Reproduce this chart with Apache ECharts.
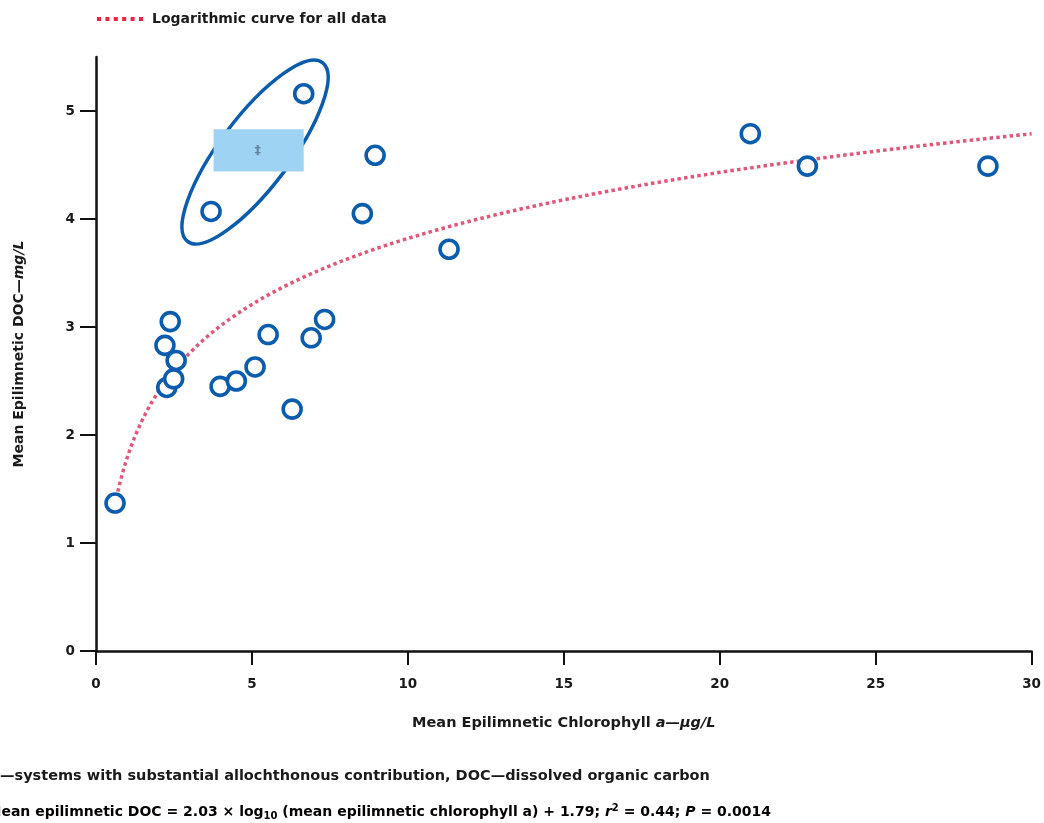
<!DOCTYPE html>
<html>
<head>
<meta charset="utf-8">
<script src="https://cdn.jsdelivr.net/npm/echarts@6/dist/echarts.min.js"></script>
<style>
  html, body { margin: 0; padding: 0; background: #fff; }
  #chart { width: 1044px; height: 823px; }
</style>
</head>
<body>
<div id="chart"></div>
<script>
// Mean epilimnetic chlorophyll a (µg/L) and DOC (mg/L) for each lake
const chlorophyll = [0.61, 2.27, 2.21, 2.38, 2.49, 2.57, 3.69, 3.98, 4.50, 5.10, 5.52,
                     6.29, 6.66, 6.90, 7.33, 8.54, 8.95, 11.32, 20.98, 22.81, 28.60];
const doc         = [1.37, 2.44, 2.83, 3.05, 2.52, 2.69, 4.07, 2.45, 2.50, 2.63, 2.93,
                     2.24, 5.16, 2.90, 3.07, 4.05, 4.59, 3.72, 4.79, 4.49, 4.49];

// Regression fitted to all lakes: DOC = slope × log10(chl a) + intercept
const FIT_SLOPE = 2.03;
const FIT_INTERCEPT = 1.79;
const FIT_R2 = 0.44;
const FIT_P = 0.0014;
const FIT_RANGE = [0.7, 30];

// Outline around the lakes with a substantial allochthonous contribution
const ALLOCH_CENTER = [5.1, 4.62];
const KEY_BOX = [[3.77, 4.83], [6.66, 4.44]];

const xTickValues = [0, 5, 10, 15, 20, 25, 30];
const yTickValues = [0, 1, 2, 3, 4, 5];
const Y_TOP = 5.5;

const FONT = "'DejaVu Sans', 'Liberation Sans', Arial, sans-serif";
const BLUE = '#0b5cad';
const INK = '#1a1a1a';
const TEXT_SIZE = 14.5;
const LEGEND_LABEL = 'Logarithmic curve for all data';

const points = chlorophyll.map((x, i) => [x, doc[i]]);

const curve = [];
const steps = 240;
for (let k = 0; k <= steps; k++) {
  const lx = Math.log10(FIT_RANGE[0]) + (Math.log10(FIT_RANGE[1]) - Math.log10(FIT_RANGE[0])) * k / steps;
  curve.push([Math.pow(10, lx), FIT_SLOPE * lx + FIT_INTERCEPT]);
}

const chart = echarts.init(document.getElementById('chart'), null, { renderer: 'canvas' });

const baseText = { fontFamily: FONT, fontWeight: 'bold', fontSize: TEXT_SIZE, color: INK };

chart.setOption({
  animation: false,
  backgroundColor: '#fff',
  grid: { left: 96, right: 7, top: 57, bottom: 172, containLabel: false },
  xAxis: {
    type: 'value',
    min: xTickValues[0], max: xTickValues[xTickValues.length - 1], interval: 5,
    splitLine: { show: false },
    axisLine: { onZero: false, lineStyle: { color: '#111', width: 2.5 } },
    axisTick: { length: 14, lineStyle: { color: '#111', width: 2 }, customValues: xTickValues },
    axisLabel: Object.assign({}, baseText, { margin: 26, fontSize: 13.5, customValues: xTickValues }),
    name: '{b|Mean Epilimnetic Chlorophyll }{i|a—µg/L}',
    nameLocation: 'middle',
    nameGap: 65,
    nameTextStyle: {
      rich: {
        b: Object.assign({}, baseText),
        i: Object.assign({}, baseText, { fontStyle: 'italic' })
      }
    }
  },
  yAxis: {
    type: 'value',
    min: yTickValues[0], max: Y_TOP, interval: 1,
    splitLine: { show: false },
    axisLine: { onZero: false, lineStyle: { color: '#111', width: 2.5 } },
    axisTick: { length: 16, lineStyle: { color: '#111', width: 2 }, customValues: yTickValues },
    axisLabel: Object.assign({}, baseText, { margin: 21, fontSize: 13.5, customValues: yTickValues }),
    name: '{b|Mean Epilimnetic DOC—}{i|mg/L}',
    nameLocation: 'middle',
    nameGap: 70,
    nameTextStyle: {
      rich: {
        b: Object.assign({}, baseText, { fontSize: 14 }),
        i: Object.assign({}, baseText, { fontSize: 14, fontStyle: 'italic' })
      }
    }
  },
  series: [
    {
      name: LEGEND_LABEL,
      type: 'line',
      data: curve,
      showSymbol: false,
      symbol: 'none',
      z: 2,
      lineStyle: { color: '#d93a62', width: 3.5, type: [3.5, 3.2], opacity: 0.85 }
    },
    {
      name: 'Lakes',
      type: 'scatter',
      data: points,
      symbol: 'circle',
      symbolSize: 18,
      z: 5,
      itemStyle: { color: '#ffffff', borderColor: BLUE, borderWidth: 3.6, opacity: 1 }
    }
  ]
});

// Annotation shapes placed in data coordinates
const c = chart.convertToPixel({ gridIndex: 0 }, ALLOCH_CENTER);
const b0 = chart.convertToPixel({ gridIndex: 0 }, KEY_BOX[0]);
const b1 = chart.convertToPixel({ gridIndex: 0 }, KEY_BOX[1]);

chart.setOption({
  graphic: [
    // key for the fitted curve
    {
      type: 'line',
      shape: { x1: 97, y1: 19, x2: 145, y2: 19 },
      style: { stroke: '#f0203e', lineWidth: 4, lineDash: [4, 4.4] }
    },
    {
      type: 'text',
      x: 152, y: 19,
      style: { text: LEGEND_LABEL, font: 'bold 14px ' + FONT, fill: INK, verticalAlign: 'middle' }
    },
    {
      type: 'ellipse',
      x: c[0], y: c[1],
      rotation: 53 * Math.PI / 180,
      shape: { cx: 0, cy: 0, rx: 112, ry: 35 },
      style: { fill: 'none', stroke: BLUE, lineWidth: 3.5 },
      z: 10
    },
    {
      type: 'rect',
      shape: { x: b0[0], y: b0[1], width: b1[0] - b0[0], height: b1[1] - b0[1] },
      style: { fill: '#9fd3f4' },
      z: 11
    },
    {
      type: 'text',
      x: (b0[0] + b1[0]) / 2 - 1, y: (b0[1] + b1[1]) / 2,
      style: { text: '‡', font: 'bold 13px ' + FONT, fill: 'rgba(40,60,80,0.5)', align: 'center', verticalAlign: 'middle' },
      z: 12
    },
    {
      type: 'text',
      x: 0, y: 776,
      style: {
        text: '—systems with substantial allochthonous contribution, DOC—dissolved organic carbon',
        font: 'bold ' + TEXT_SIZE + 'px ' + FONT, fill: INK, verticalAlign: 'middle'
      }
    },
    {
      type: 'text',
      x: -12.5, y: 802,
      style: {
        text: '{n|Mean epilimnetic DOC = ' + FIT_SLOPE.toFixed(2) + ' × log}{sub|10}{n| (mean epilimnetic chlorophyll a) + ' +
              FIT_INTERCEPT.toFixed(2) + '; }{i|r}{sup|2}{n| = ' + FIT_R2.toFixed(2) + '; }{i|P}{n| = ' + FIT_P + '}',
        rich: {
          n: { fontFamily: FONT, fontWeight: 'bold', fontSize: 14, color: INK, lineHeight: 20 },
          i: { fontFamily: FONT, fontWeight: 'bold', fontStyle: 'italic', fontSize: 14, color: INK, lineHeight: 20 },
          sub: { fontFamily: FONT, fontWeight: 'bold', fontSize: 10, color: INK, lineHeight: 20, padding: [9, 0, 0, 0] },
          sup: { fontFamily: FONT, fontWeight: 'bold', fontSize: 10, color: INK, lineHeight: 20, padding: [0, 0, 8, 0] }
        }
      }
    }
  ]
});
</script>
</body>
</html>
